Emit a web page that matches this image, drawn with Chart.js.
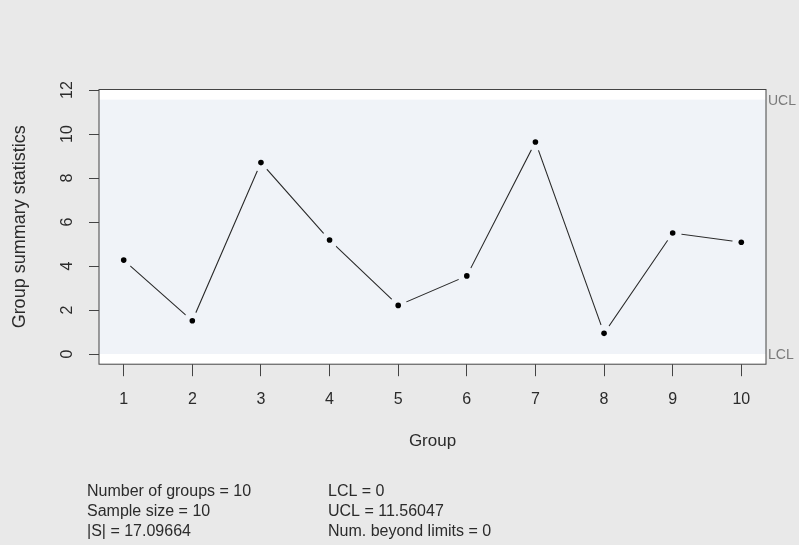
<!DOCTYPE html>
<html>
<head>
<meta charset="utf-8">
<script src="https://cdn.jsdelivr.net/npm/chart.js@4/dist/chart.umd.min.js"></script>
<style>
  html, body { margin: 0; padding: 0; background: #e9e9e9; }
  #wrap { width: 799px; height: 545px; }
</style>
</head>
<body>
<div id="wrap"><canvas id="qcc"></canvas></div>
<script>
// Group summary statistics (T2 chart)
const groups = [1, 2, 3, 4, 5, 6, 7, 8, 9, 10];
const stats = [4.27, 1.51, 8.70, 5.18, 2.21, 3.55, 9.64, 0.94, 5.50, 5.08];
const yTickValues = [0, 2, 4, 6, 8, 10, 12];
const LCL = 0;
const UCL = 11.56047;
const summaryLeft = ['Number of groups = 10', 'Sample size = 10', '|S| = 17.09664'];
const summaryRight = ['LCL = 0', 'UCL = 11.56047', 'Num. beyond limits = 0'];

const FONT = '"Liberation Sans", Arial, sans-serif';
const BAND = '#f0f3f8';
const TEXT = '#2b2b2b';

// R-style axis ranges: data range extended by 4% each side
const xPad = (groups[groups.length - 1] - groups[0]) * 0.04;
const yLo = Math.min(LCL, ...stats), yHi = Math.max(UCL, ...stats);
const yPad = (yHi - yLo) * 0.04;

const limitsPlugin = {
  id: 'limits',
  beforeDatasetsDraw(chart) {
    const { ctx, chartArea: a, scales: { y } } = chart;
    ctx.save();
    ctx.fillStyle = '#ffffff';
    ctx.fillRect(a.left, a.top, a.right - a.left, a.bottom - a.top);
    const yU = y.getPixelForValue(UCL), yL = y.getPixelForValue(LCL);
    ctx.fillStyle = BAND;
    ctx.fillRect(a.left, yU, a.right - a.left, yL - yU);
    ctx.restore();
  },
  afterDraw(chart) {
    const { ctx, chartArea: a, scales: { y } } = chart;
    ctx.save();
    // plot box
    ctx.strokeStyle = '#444';
    ctx.lineWidth = 1;
    ctx.strokeRect(a.left, a.top, a.right - a.left, a.bottom - a.top);
    // limit labels on the right
    ctx.fillStyle = '#7a7a7a';
    ctx.font = '14px ' + FONT;
    ctx.textAlign = 'left';
    ctx.textBaseline = 'middle';
    ctx.fillText('UCL', a.right + 2, y.getPixelForValue(UCL) + 1);
    ctx.fillText('LCL', a.right + 2, y.getPixelForValue(LCL) + 1);
    // summary block
    ctx.fillStyle = TEXT;
    ctx.font = '16px ' + FONT;
    ctx.textBaseline = 'alphabetic';
    summaryLeft.forEach((t, i) => ctx.fillText(t, 87, 496 + i * 20));
    summaryRight.forEach((t, i) => ctx.fillText(t, 328, 496 + i * 20));
    ctx.restore();
  }
};

new Chart(document.getElementById('qcc'), {
  type: 'line',
  data: {
    datasets: [
      {
        // points on top
        data: groups.map((g, i) => ({ x: g, y: stats[i] })),
        showLine: false,
        pointRadius: 2.8,
        pointBackgroundColor: '#000',
        pointBorderWidth: 0,
        order: 0
      },
      {
        // connecting line, broken around each point
        data: groups.map((g, i) => ({ x: g, y: stats[i] })),
        borderColor: '#2a2a2a',
        borderWidth: 1.1,
        tension: 0,
        pointRadius: 9,
        pointBackgroundColor: BAND,
        pointBorderWidth: 0,
        order: 1
      }
    ]
  },
  options: {
    responsive: true,
    maintainAspectRatio: false,
    animation: false,
    events: [],
    layout: { padding: { top: 89.5, right: 33, left: 0, bottom: 0 } },
    plugins: { legend: { display: false }, tooltip: { enabled: false } },
    scales: {
      x: {
        type: 'linear',
        min: groups[0] - xPad,
        max: groups[groups.length - 1] + xPad,
        afterBuildTicks: s => { s.ticks = groups.map(v => ({ value: v })); },
        afterFit: s => { s.height = 545 - 364.2; },
        border: { display: false },
        grid: { drawOnChartArea: false, drawTicks: true, tickLength: 12, color: '#444' },
        ticks: { color: TEXT, font: { family: FONT, size: 16 }, padding: 14, maxRotation: 0, autoSkip: false },
        title: {
          display: true, text: 'Group', color: TEXT,
          font: { family: FONT, size: 17 }, padding: { top: 0, bottom: 93.5 }
        }
      },
      y: {
        type: 'linear',
        min: yLo - yPad,
        max: yHi + yPad,
        afterBuildTicks: s => { s.ticks = yTickValues.map(v => ({ value: v })); },
        afterFit: s => { s.width = 99; },
        border: { display: false },
        grid: { drawOnChartArea: false, drawTicks: true, tickLength: 10, color: '#444' },
        ticks: {
          color: TEXT, font: { family: FONT, size: 16 }, padding: 12.6,
          minRotation: 90, maxRotation: 90, crossAlign: 'center', autoSkip: false
        },
        title: {
          display: true, text: 'Group summary statistics', color: TEXT,
          font: { family: FONT, size: 18 }, padding: { top: 9, bottom: 0 }
        }
      }
    }
  },
  plugins: [limitsPlugin]
});
</script>
</body>
</html>
